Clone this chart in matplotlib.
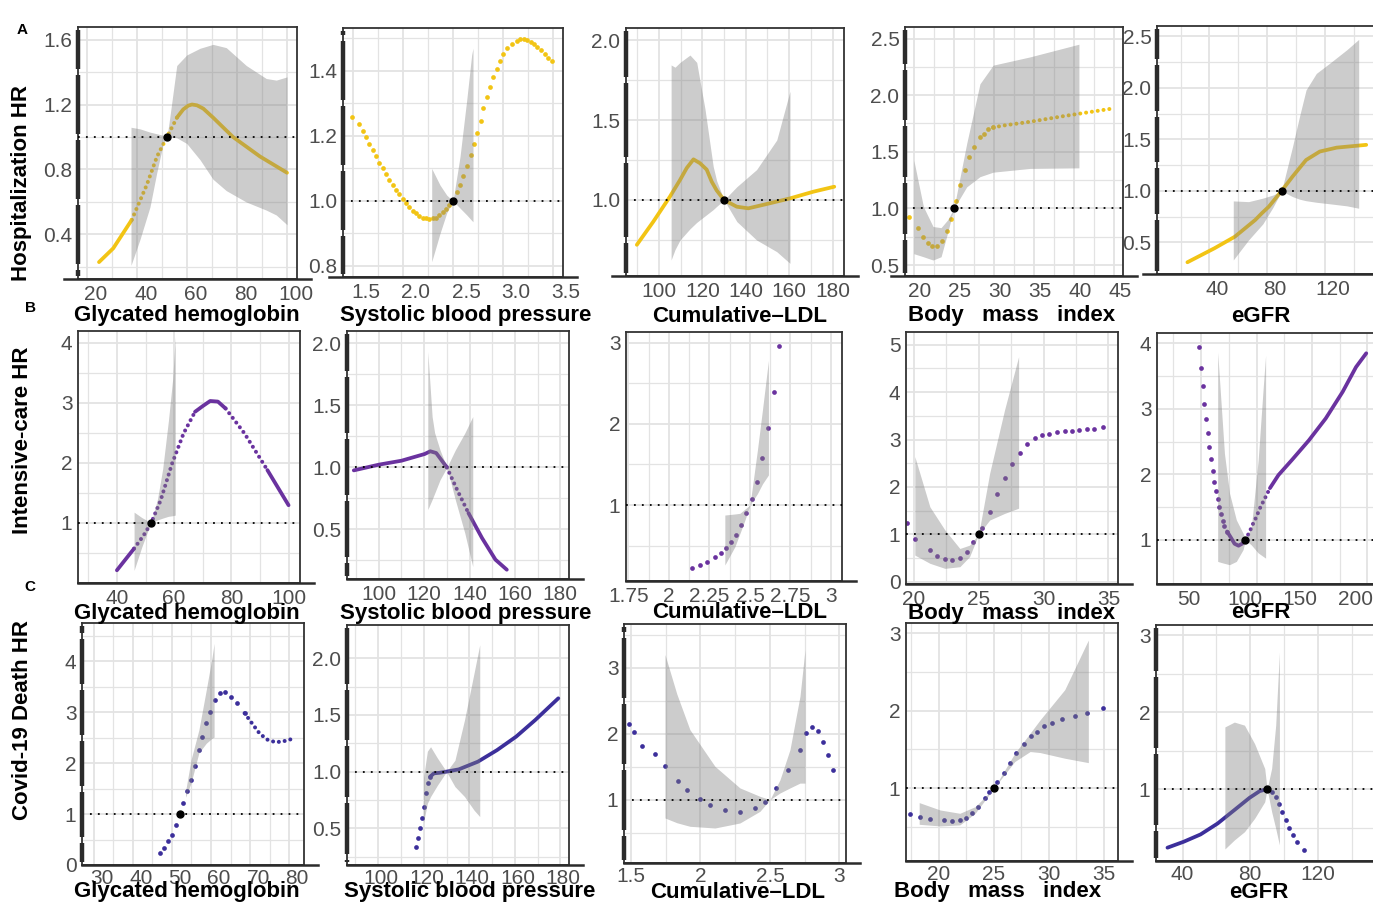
import matplotlib
matplotlib.use("Agg")
import matplotlib.pyplot as plt
import matplotlib.transforms as mtransforms
from matplotlib.lines import Line2D
import numpy as np

plt.rcParams['font.family'] = ['Liberation Sans', 'DejaVu Sans']

# ---------------- data ----------------
row_titles = ['Hospitalization HR', 'Intensive-care HR', 'Covid-19 Death HR']
row_letters = ['A', 'B', 'C']
col_titles = ['Glycated hemoglobin', 'Systolic blood pressure', 'Cumulative\u2013LDL',
              'Body   mass   index', 'eGFR']
ref_x = [52, 2.5, 130, 25, 90]

# row A : hospitalization
a1_x = [24.8, 30.5, 37.9, 43.9, 48.0, 52.0, 56.0, 58.5, 60.5, 62.0, 64.0, 66.5, 70.4, 78.4, 89.2, 100.0]
a1_y = [0.23, 0.315, 0.49, 0.705, 0.88, 1.0, 1.12, 1.17, 1.193, 1.2, 1.195, 1.175, 1.12, 1.0, 0.88, 0.78]
a1_bx = [37.6, 41.2, 45.2, 47.9, 50.5, 52, 53.2, 55.9, 59.9, 65.2, 70.4, 75.7, 83.7, 91.7, 95.7, 100]
a1_lo = [0.21, 0.37, 0.57, 0.78, 0.96, 1.0, 1.0, 0.995, 0.96, 0.86, 0.74, 0.67, 0.60, 0.55, 0.52, 0.46]
a1_hi = [1.06, 1.05, 1.03, 1.02, 1.01, 1.0, 1.13, 1.44, 1.505, 1.546, 1.57, 1.55, 1.44, 1.36, 1.35, 1.37]

a2_x = [1.487, 1.563, 1.597, 1.630, 1.663, 1.697, 1.730, 1.763, 1.797, 1.830, 1.863, 1.897, 1.930,
        1.963, 1.997, 2.030, 2.063, 2.097, 2.130, 2.163, 2.197, 2.230, 2.263, 2.297, 2.330, 2.363,
        2.397, 2.430, 2.463, 2.500, 2.537, 2.570, 2.603, 2.643, 2.677, 2.710, 2.743, 2.777, 2.803,
        2.837, 2.870, 2.903, 2.937, 2.970, 3.003, 3.043, 3.087, 3.137, 3.170, 3.210, 3.243, 3.277,
        3.310, 3.343, 3.377, 3.420, 3.453, 3.493]
a2_y = [1.257, 1.237, 1.215, 1.196, 1.175, 1.157, 1.139, 1.118, 1.101, 1.083, 1.065, 1.048, 1.034,
        1.021, 1.006, 0.993, 0.981, 0.970, 0.962, 0.955, 0.949, 0.946, 0.945, 0.946, 0.949, 0.956,
        0.965, 0.974, 0.988, 1.000, 1.026, 1.049, 1.077, 1.108, 1.140, 1.174, 1.210, 1.247, 1.285,
        1.319, 1.352, 1.380, 1.406, 1.429, 1.452, 1.470, 1.483, 1.493, 1.497, 1.498, 1.495, 1.490,
        1.483, 1.475, 1.465, 1.451, 1.441, 1.429]
a2_bx = [2.287, 2.37, 2.437, 2.5, 2.57, 2.637, 2.687, 2.70]
a2_lo = [0.813, 0.90, 0.963, 1.0, 0.978, 0.957, 0.94, 0.936]
a2_hi = [1.10, 1.049, 1.018, 1.0, 1.136, 1.31, 1.45, 1.47]

a3_x = [89.8, 97.4, 105, 109.7, 112.8, 115.9, 118.9, 122, 124.3, 126.6, 130, 135.9, 141.2, 149.7,
        160.4, 171.2, 180.8]
a3_y = [0.72, 0.865, 1.02, 1.125, 1.2, 1.254, 1.23, 1.19, 1.115, 1.06, 1.0, 0.958, 0.948, 0.975,
        1.01, 1.052, 1.083]
a3_bx = [105.6, 107.4, 109.7, 114.3, 117.4, 121.2, 125, 126.6, 130, 135.9, 145, 154.3, 160.4]
a3_lo = [0.625, 0.69, 0.75, 0.82, 0.86, 0.90, 0.94, 0.96, 1.0, 0.865, 0.75, 0.677, 0.604]
a3_hi = [1.844, 1.83, 1.86, 1.906, 1.86, 1.57, 1.21, 1.12, 1.0, 1.083, 1.19, 1.375, 1.68]

a4_x = [19.4, 20.5, 21.2, 21.8, 22.3, 22.9, 23.5, 24.1, 24.6, 25.0, 25.3, 25.8, 26.4, 26.9, 27.5,
        28.2, 28.75, 29.3, 29.9, 31.2, 34.5, 38.7, 41.6, 44.8]
a4_y = [0.926, 0.829, 0.75, 0.697, 0.67, 0.67, 0.714, 0.80, 0.91, 1.0, 1.064, 1.21, 1.338, 1.455,
        1.544, 1.627, 1.66, 1.697, 1.715, 1.732, 1.765, 1.815, 1.847, 1.882]
a4_bx = [20.0, 21.2, 22.4, 23.4, 24.2, 25, 26.6, 28.25, 29.9, 34.5, 40.6]
a4_lo = [0.60, 0.573, 0.544, 0.573, 0.78, 1.0, 1.19, 1.28, 1.32, 1.353, 1.358]
a4_hi = [1.426, 1.015, 0.84, 0.83, 0.897, 1.0, 1.574, 2.10, 2.265, 2.338, 2.45]

a5_x = [24.7, 43.5, 57.6, 71.7, 76.5, 81.2, 90, 97.6, 107, 116.5, 128.2, 148.7]
a5_y = [0.308, 0.444, 0.556, 0.718, 0.786, 0.848, 1.0, 1.139, 1.30, 1.382, 1.42, 1.447]
a5_bx = [56.5, 67.1, 77, 84, 90, 97.6, 102.4, 107, 114.1, 123.5, 135.3, 143.5]
a5_lo = [0.33, 0.524, 0.68, 0.84, 1.0, 0.945, 0.92, 0.905, 0.89, 0.875, 0.855, 0.832]
a5_hi = [0.903, 0.896, 0.93, 0.96, 1.0, 1.43, 1.72, 1.98, 2.14, 2.24, 2.37, 2.47]

# row B : intensive care
b1_x = [40, 46, 49.3, 52, 55.3, 59.3, 63.3, 67.3, 70, 72.6, 75.3, 78, 84.6, 92.6, 100]
b1_y = [0.212, 0.573, 0.79, 1.0, 1.378, 1.99, 2.49, 2.85, 2.945, 3.03, 3.02, 2.905, 2.49, 1.88, 1.295]
b1_bx = [46, 48.7, 51.3, 52, 54.2, 56, 58, 59.5, 60.4]
b1_lo = [0.21, 0.6, 0.93, 1.0, 1.05, 1.08, 1.11, 1.12, 1.13]
b1_hi = [1.18, 1.09, 1.02, 1.0, 1.4, 1.9, 2.7, 3.4, 4.1]

b2_x = [89, 100, 110, 120.2, 122.7, 125.3, 130, 134.5, 139.5, 145.5, 151.4, 156.4]
b2_y = [0.976, 1.022, 1.054, 1.108, 1.13, 1.116, 1.0, 0.82, 0.632, 0.43, 0.256, 0.175]
b2_bx = [121.6, 123.5, 124.6, 127, 130, 133.7, 137.9, 141.4]
b2_lo = [0.66, 0.74, 0.79, 0.90, 1.0, 0.74, 0.47, 0.20]
b2_hi = [1.935, 1.41, 1.28, 1.14, 1.0, 1.14, 1.277, 1.41]

b3_x = [2.144, 2.191, 2.237, 2.283, 2.32, 2.352, 2.382, 2.413, 2.447, 2.478, 2.515, 2.546, 2.577,
        2.614, 2.648, 2.679]
b3_y = [0.22, 0.262, 0.30, 0.364, 0.405, 0.467, 0.549, 0.63, 0.754, 0.898, 1.07, 1.287, 1.574,
        1.943, 2.394, 2.96]
b3_bx = [2.345, 2.407, 2.438, 2.469, 2.5, 2.546, 2.577, 2.614]
b3_lo = [0.262, 0.487, 0.65, 0.815, 1.0, 1.14, 1.26, 1.37]
b3_hi = [0.877, 0.89, 0.898, 0.95, 1.0, 1.677, 2.17, 2.78]

b4_x = [19.5, 20.08, 21.24, 21.8, 22.4, 22.97, 23.55, 24.12, 24.6, 25.28, 25.85, 26.43, 27.0,
        27.59, 28.16, 28.74, 29.32, 29.9, 30.46, 31.04, 31.62, 32.19, 32.77, 33.35, 33.92, 34.58]
b4_y = [1.245, 0.894, 0.668, 0.54, 0.471, 0.46, 0.49, 0.62, 0.845, 1.127, 1.478, 1.846, 2.18,
        2.486, 2.71, 2.90, 3.03, 3.10, 3.12, 3.149, 3.17, 3.185, 3.20, 3.22, 3.227, 3.255]
b4_bx = [20.08, 21.24, 22.4, 23.55, 24.3, 25, 25.85, 27.0, 28.08]
b4_lo = [0.56, 0.387, 0.28, 0.315, 0.527, 1.0, 1.30, 1.44, 1.55]
b4_hi = [2.64, 1.58, 1.09, 0.70, 0.77, 1.0, 2.29, 3.63, 4.75]

b5_x = [48.2, 49.8, 51.4, 52.8, 54.4, 55.9, 57.4, 58.9, 60.5, 61.9, 63.5, 65.0, 66.5, 68.1, 69.6,
        71.1, 73.5, 77.2, 80.2, 83.8, 86.9, 90, 93.9, 97.0, 100, 103, 107.6, 112.1, 119.8, 131.9,
        147.2, 162.4, 177.6, 189.7, 198.9]
b5_y = [3.94, 3.63, 3.35, 3.08, 2.84, 2.63, 2.42, 2.23, 2.056, 1.89, 1.75, 1.62, 1.50, 1.40, 1.29,
        1.21, 1.127, 1.026, 0.94, 0.91, 0.94, 1.0, 1.127, 1.25, 1.355, 1.48, 1.636, 1.79, 1.99,
        2.22, 2.52, 2.855, 3.26, 3.64, 3.85]
b5_bx = [65, 68.1, 71.1, 75.7, 81.8, 87.9, 90, 95.4, 101.5, 106.1, 108.2]
b5_lo = [0.67, 0.654, 0.64, 0.62, 0.67, 0.85, 1.0, 0.92, 0.80, 0.745, 0.72]
b5_hi = [3.87, 3.08, 2.32, 1.71, 1.305, 1.10, 1.0, 1.20, 2.22, 3.34, 3.82]

# row C : covid-19 death
c1_x = [46.9, 48.0, 49.0, 50.0, 51.0, 52.9, 53.9, 54.9, 55.9, 56.9, 57.8, 58.8, 59.8, 61.0, 62.3,
        63.7, 65.2, 66.7, 68.6, 70.6, 72.5, 74.5, 76.5, 78.4, 80.9]
c1_y = [0.235, 0.333, 0.464, 0.595, 0.79, 1.216, 1.444, 1.673, 1.935, 2.26, 2.52, 2.78, 3.01, 3.24,
        3.37, 3.386, 3.307, 3.176, 2.98, 2.77, 2.575, 2.458, 2.41, 2.425, 2.477]
c1_bx = [53.5, 54.9, 56.9, 58.8, 60.3, 60.8]
c1_lo = [1.33, 1.61, 2.20, 2.39, 2.49, 2.51]
c1_hi = [1.45, 2.065, 2.65, 3.44, 4.09, 4.35]

c2_x = [116.6, 117.4, 118.2, 119.1, 119.9, 121.1, 121.9, 122.8, 124.5, 127, 130, 135.4, 143.8,
        152.2, 160.6, 169.0, 179.1]
c2_y = [0.338, 0.41, 0.5, 0.588, 0.69, 0.81, 0.897, 0.956, 0.985, 0.99, 1.0, 1.02, 1.088, 1.19,
        1.309, 1.456, 1.647]
c2_bx = [119.9, 121.6, 123, 126, 130, 133.7, 137.9, 142.1, 144.6]
c2_lo = [0.55, 0.72, 0.78, 0.88, 1.0, 0.868, 0.78, 0.66, 0.603]
c2_hi = [0.95, 1.18, 1.22, 1.12, 1.0, 1.10, 1.456, 1.87, 2.12]

c3_x = [1.486, 1.522, 1.583, 1.673, 1.745, 1.835, 1.906, 1.996, 2.068, 2.176, 2.284, 2.392, 2.464,
        2.547, 2.633, 2.716, 2.759, 2.806, 2.849, 2.885, 2.914, 2.95]
c3_y = [2.152, 2.02, 1.808, 1.697, 1.505, 1.278, 1.141, 1.01, 0.914, 0.838, 0.813, 0.874, 0.96,
        1.177, 1.455, 1.758, 2.01, 2.10, 2.035, 1.869, 1.682, 1.455]
c3_bx = [1.745, 1.83, 1.924, 2.104, 2.284, 2.428, 2.5, 2.572, 2.644, 2.716, 2.752]
c3_lo = [0.722, 0.65, 0.596, 0.57, 0.646, 0.823, 1.0, 1.10, 1.177, 1.25, 1.25]
c3_hi = [3.197, 2.6, 2.06, 1.505, 1.177, 1.05, 1.0, 1.30, 1.758, 2.566, 3.27]

c4_x = [17.4, 18.3, 19.2, 20.5, 21.2, 21.9, 22.45, 23.0, 23.6, 24.2, 24.6, 25.3, 25.9, 26.45,
        27.0, 27.7, 28.4, 28.95, 29.6, 30.3, 31.2, 32.4, 33.5, 34.9]
c4_y = [0.665, 0.634, 0.609, 0.591, 0.583, 0.591, 0.613, 0.677, 0.763, 0.871, 0.957, 1.086, 1.2,
        1.33, 1.45, 1.57, 1.667, 1.73, 1.796, 1.847, 1.89, 1.933, 1.976, 2.04]
c4_bx = [18.2, 20.1, 21.9, 23.3, 25, 26.9, 28.3, 29.2, 31.45, 33.6]
c4_lo = [0.535, 0.514, 0.527, 0.677, 1.0, 1.344, 1.473, 1.46, 1.387, 1.33]
c4_hi = [0.815, 0.72, 0.677, 0.763, 1.0, 1.45, 1.71, 1.88, 2.27, 2.91]

c5_x = [31, 40.6, 50.6, 60.7, 70.6, 79.6, 85.6, 90, 92.7, 95.1, 97.1, 99.1, 101.1, 103.1, 105.1,
        107.7, 111.7]
c5_y = [0.24, 0.317, 0.412, 0.554, 0.728, 0.887, 0.974, 1.0, 0.965, 0.90, 0.81, 0.706, 0.598, 0.49,
        0.404, 0.31, 0.21]
c5_bx = [65, 70.6, 76.6, 82.6, 88.6, 90, 92.7, 95.1, 97.3]
c5_lo = [0.223, 0.34, 0.447, 0.62, 0.835, 1.0, 0.706, 0.49, 0.275]
c5_hi = [1.807, 1.87, 1.83, 1.59, 1.267, 1.0, 1.27, 1.83, 2.78]

# ---------------- layout / style ----------------
W, H = 1373, 902
COLORS = ['#F2C414', '#6A329F', '#3C2F9B']
GRID = '#E3E3E3'
FRAME = '#333333'
TICK_C = '#4D4D4D'

PANELS = [
    # row A
    dict(row=0, col=0, box=(78, 297, 27, 279), xlim=(16.4, 104), ylim=(0.126, 1.677),
         xt=[20, 40, 60, 80, 100], xm=[30, 50, 70, 90], yt=[0.4, 0.8, 1.2, 1.6], ym=[0.2, 0.6, 1.0, 1.4],
         yfmt='{:.1f}', data=(a1_x, a1_y, a1_bx, a1_lo, a1_hi),
         seg=[(0, 37.9, 'line'), (37.9, 56, 'dotline'), (56, 999, 'line')], xoff=9, thick=True),
    dict(row=0, col=1, box=(343, 563, 28, 277), xlim=(1.40, 3.60), ylim=(0.766, 1.532),
         xt=[1.5, 2.0, 2.5, 3.0, 3.5], xm=[1.75, 2.25, 2.75, 3.25], xfmt='{:.1f}',
         yt=[0.8, 1.0, 1.2, 1.4], ym=[0.9, 1.1, 1.3, 1.5], yfmt='{:.1f}',
         data=(a2_x, a2_y, a2_bx, a2_lo, a2_hi), seg=[(0, 999, 'dots')], xoff=13, thick=True),
    dict(row=0, col=2, box=(626, 844, 28, 276), xlim=(84.8, 185.3), ylim=(0.525, 2.075),
         xt=[100, 120, 140, 160, 180], xm=[90, 110, 130, 150, 170], yt=[1.0, 1.5, 2.0],
         ym=[0.75, 1.25, 1.75], yfmt='{:.1f}', data=(a3_x, a3_y, a3_bx, a3_lo, a3_hi),
         seg=[(0, 999, 'line')], xoff=0, thick=True),
    dict(row=0, col=3, box=(905, 1123, 27, 276), xlim=(18.9, 46.1), ylim=(0.403, 2.602),
         xt=[20, 25, 30, 35, 40, 45], xm=[22.5, 27.5, 32.5, 37.5, 42.5],
         yt=[0.5, 1.0, 1.5, 2.0, 2.5], ym=[0.75, 1.25, 1.75, 2.25], yfmt='{:.1f}',
         data=(a4_x, a4_y, a4_bx, a4_lo, a4_hi), seg=[(0, 29.9, 'dots'), (29.9, 999, 'dotline')],
         xoff=6, thick=True),
    dict(row=0, col=4, box=(1157, 1376, 26, 274), xlim=(3.6, 155.5), ylim=(0.194, 2.60),
         xt=[40, 80, 120], xm=[20, 60, 100, 140], yt=[0.5, 1.0, 1.5, 2.0, 2.5],
         ym=[0.75, 1.25, 1.75, 2.25], yfmt='{:.1f}', data=(a5_x, a5_y, a5_bx, a5_lo, a5_hi),
         seg=[(0, 999, 'line')], xoff=8, thick=True),
    # row B
    dict(row=1, col=0, box=(78, 300, 331, 583), xlim=(26.4, 104), ylim=(0.0, 4.195),
         xt=[40, 60, 80, 100], xm=[30, 50, 70, 90], yt=[1, 2, 3, 4], ym=[0.5, 1.5, 2.5, 3.5],
         data=(b1_x, b1_y, b1_bx, b1_lo, b1_hi),
         seg=[(0, 46, 'line'), (46, 67.3, 'dotline'), (67.3, 78, 'line'), (78, 92.6, 'dotline'),
              (92.6, 999, 'line')], xoff=0, thick=False),
    dict(row=1, col=1, box=(347, 569, 331, 579), xlim=(86, 183.8), ylim=(0.10, 2.10),
         xt=[100, 120, 140, 160, 180], xm=[90, 110, 130, 150, 170], yt=[0.5, 1.0, 1.5, 2.0],
         ym=[0.25, 0.75, 1.25, 1.75], yfmt='{:.1f}', data=(b2_x, b2_y, b2_bx, b2_lo, b2_hi),
         seg=[(0, 130, 'line'), (130, 139.5, 'dotline'), (139.5, 999, 'line')], xoff=0, thick=True),
    dict(row=1, col=2, box=(626, 842, 332, 581), xlim=(1.735, 3.068), ylim=(0.065, 3.13),
         xt=[1.75, 2, 2.25, 2.5, 2.75, 3], xm=[1.875, 2.125, 2.375, 2.625, 2.875], yt=[1, 2, 3],
         ym=[0.5, 1.5, 2.5], data=(b3_x, b3_y, b3_bx, b3_lo, b3_hi), seg=[(0, 999, 'dots')],
         xoff=0, thick=False),
    dict(row=1, col=3, box=(906, 1118, 332, 584), xlim=(19.4, 35.74), ylim=(-0.05, 5.27),
         xt=[20, 25, 30, 35], xm=[22.5, 27.5, 32.5], yt=[0, 1, 2, 3, 4, 5],
         ym=[0.5, 1.5, 2.5, 3.5, 4.5], data=(b4_x, b4_y, b4_bx, b4_lo, b4_hi),
         seg=[(0, 999, 'dots')], xoff=0, thick=False),
    dict(row=1, col=4, box=(1157, 1376, 333, 584), xlim=(10.3, 207.7), ylim=(0.325, 4.16),
         xt=[50, 100, 150, 200], xm=[25, 75, 125, 175], yt=[1, 2, 3, 4], ym=[1.5, 2.5, 3.5],
         data=(b5_x, b5_y, b5_bx, b5_lo, b5_hi),
         seg=[(0, 73.5, 'dots'), (73.5, 90, 'line'), (90, 112.1, 'dotline'), (112.1, 999, 'line')],
         xoff=-12, thick=False),
    # row C
    dict(row=2, col=0, box=(82, 304, 623, 865), xlim=(27, 83.8), ylim=(0.0, 4.75),
         xt=[30, 40, 50, 60, 70, 80], xm=[35, 45, 55, 65, 75], yt=[0, 1, 2, 3, 4],
         ym=[0.5, 1.5, 2.5, 3.5, 4.5], data=(c1_x, c1_y, c1_bx, c1_lo, c1_hi),
         seg=[(0, 68.6, 'dots'), (68.6, 999, 'dotline')], xoff=8, thick=True),
    dict(row=2, col=1, box=(347, 569, 625, 865), xlim=(86.3, 183.8), ylim=(0.176, 2.294),
         xt=[100, 120, 140, 160, 180], xm=[90, 110, 130, 150, 170], yt=[0.5, 1.0, 1.5, 2.0],
         ym=[0.25, 0.75, 1.25, 1.75], yfmt='{:.1f}', data=(c2_x, c2_y, c2_bx, c2_lo, c2_hi),
         seg=[(0, 122.8, 'dots'), (122.8, 999, 'line')], xoff=3, thick=True),
    dict(row=2, col=2, box=(624, 846, 624, 863), xlim=(1.45, 3.047), ylim=(0.04, 3.66),
         xt=[1.5, 2, 2.5, 3], xm=[1.75, 2.25, 2.75], yt=[1, 2, 3], ym=[0.5, 1.5, 2.5, 3.5],
         data=(c3_x, c3_y, c3_bx, c3_lo, c3_hi), seg=[(0, 999, 'dots')], xoff=0, thick=True),
    dict(row=2, col=3, box=(906, 1118, 623, 861), xlim=(17.0, 36.3), ylim=(0.062, 3.13),
         xt=[20, 25, 30, 35], xm=[17.5, 22.5, 27.5, 32.5], yt=[1, 2, 3], ym=[0.5, 1.5, 2.5],
         data=(c4_x, c4_y, c4_bx, c4_lo, c4_hi), seg=[(0, 999, 'dots')], xoff=0, thick=False),
    dict(row=2, col=4, box=(1156, 1376, 625, 861), xlim=(24.2, 154.5), ylim=(0.067, 3.13),
         xt=[40, 80, 120], xm=[60, 100, 140], yt=[1, 2, 3], ym=[0.5, 1.5, 2.5],
         data=(c5_x, c5_y, c5_bx, c5_lo, c5_hi), seg=[(0, 90, 'line'), (90, 999, 'dots')],
         xoff=0, thick=True),
]

LABEL_Y = [316, 613, 892]
LABEL_X = [[187, 466, 740, 1012, 1261], [187, 466, 740, 1012, 1261], [187, 470, 738, 998, 1259]]


def fmt(vals, f):
    return [f.format(v) if f else ('{:g}'.format(v)) for v in vals]


fig = plt.figure(figsize=(W / 100, H / 100), dpi=100)
fig.patch.set_facecolor('white')

for p in PANELS:
    l, r, t, b = p['box']
    ax = fig.add_axes([l / W, 1 - b / H, (r - l) / W, (b - t) / H])
    color = COLORS[p['row']]
    cx, cy, bx, blo, bhi = [np.asarray(v, dtype=float) for v in p['data']]

    # curve, drawn piecewise as solid line / dotted line / separate points
    for x0, x1, kind in p['seg']:
        m = (cx >= x0 - 1e-9) & (cx <= x1 + 1e-9)
        if kind == 'line':
            ax.plot(cx[m], cy[m], color=color, lw=2.7, solid_capstyle='round',
                    solid_joinstyle='round', zorder=2)
        elif kind == 'dotline':
            ax.plot(cx[m], cy[m], color=color, lw=2.9, ls=(0, (0.01, 1.45)),
                    dash_capstyle='round', zorder=2)
        else:
            ax.plot(cx[m], cy[m], ls='none', marker='o', ms=3.4, mew=0, color=color, zorder=2)

    ax.fill_between(bx, blo, bhi, color='#808080', alpha=0.4, lw=0, zorder=3)
    ax.axhline(1.0, color='black', lw=1.3, ls=(0, (1, 3.4)), zorder=4)
    ax.plot([ref_x[p['col']]], [1.0], 'o', color='black', ms=5, zorder=5)

    ax.set_xticks(p['xt'])
    ax.set_xticklabels(fmt(p['xt'], p.get('xfmt')))
    ax.set_xticks(p['xm'], minor=True)
    ax.set_yticks(p['yt'])
    ax.set_yticklabels(fmt(p['yt'], p.get('yfmt')))
    ax.set_yticks(p['ym'], minor=True)
    ax.grid(True, which='major', color=GRID, lw=1.3, zorder=0)
    ax.grid(True, which='minor', color=GRID, lw=0.9, zorder=0)
    ax.set_axisbelow(True)
    ax.tick_params(which='both', length=0, labelsize=15, labelcolor=TICK_C, pad=4)
    ax.tick_params(axis='x', pad=3 if p['row'] == 2 else 4)
    for s in ax.spines.values():
        s.set_color(FRAME)
        s.set_linewidth(1.3)
    ax.set_xlim(*p['xlim'])
    ax.set_ylim(*p['ylim'])

    if p['xoff']:
        off = mtransforms.ScaledTranslation(p['xoff'] / 100, 0, fig.dpi_scale_trans)
        for lab in ax.get_xticklabels():
            lab.set_transform(lab.get_transform() + off)

    # heavy bottom axis line reaching past the frame
    fig.add_artist(Line2D([(l - (14 if p['row'] == 0 else 0)) / W, (r + 14) / W],
                          [1 - b / H, 1 - b / H], color='#2B2B2B', lw=1.8))

    # heavy broken left axis line, gaps at the minor grid positions
    if p['thick']:
        y0, y1 = p['ylim']
        gap = 3.0 * (y1 - y0) / (b - t)
        cuts = [y0] + [v for v in p['ym'] if y0 < v < y1] + [y1]
        tr = ax.get_yaxis_transform()
        for c0, c1 in zip(cuts[:-1], cuts[1:]):
            ax.add_line(Line2D([0, 0], [c0 + gap, c1 - gap], transform=tr, color='#2B2B2B',
                               lw=3.2, solid_capstyle='butt', clip_on=False, zorder=7))

    fig.text(LABEL_X[p['row']][p['col']] / W, 1 - LABEL_Y[p['row']] / H, col_titles[p['col']],
             ha='center', va='center', fontsize=16, fontweight='bold', color='black')

for title, y in zip(row_titles, [183, 440, 720]):
    fig.text(22 / W, 1 - y / H, title, rotation=90, ha='center', va='center',
             fontsize=16, fontweight='bold')
for letter, (x, y) in zip(row_letters, [(22, 30), (30, 308), (30, 587)]):
    fig.text(x / W, 1 - y / H, letter, ha='center', va='center', fontsize=11, fontweight='bold')

fig.savefig('out.png', dpi=100, facecolor='white')
